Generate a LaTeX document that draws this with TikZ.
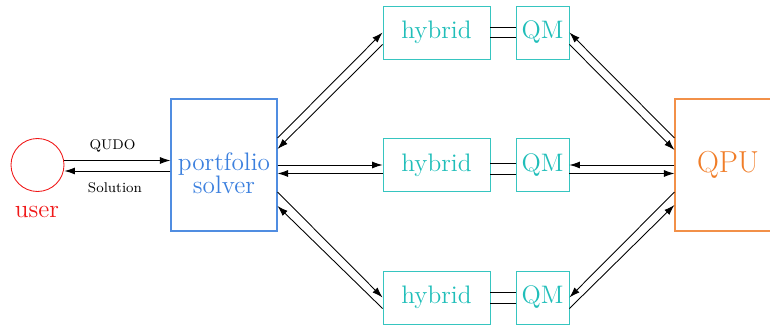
\documentclass[tikz,border=0pt]{standalone}
\usepackage{amsmath}
\usepackage{xcolor}
\usepackage{tikz}
\usetikzlibrary{positioning,calc,arrows.meta}

\definecolor{userred}{RGB}{240,25,25}
\definecolor{solverblue}{RGB}{60,128,222}
\definecolor{hybridteal}{RGB}{32,190,185}
\definecolor{qpuorange}{RGB}{240,125,40}

\begin{document}
\begin{tikzpicture}[
		bigbox/.style={draw, line width=0.6pt, minimum width=2.12cm, minimum height=2.64cm, inner sep=0pt, font=\Large},
		hybbox/.style={draw=hybridteal!90, text=hybridteal, line width=0.5pt, minimum height=1.06cm, inner sep=0pt, font=\Large},
		link/.style={-{Latex[length=0.21cm,width=0.14cm]}, black, line width=0.5pt},
		rail/.style={black, line width=0.5pt},
		tag/.style={font=\footnotesize}
	]
	\useasboundingbox (0,0) rectangle (15.4,-6.56);

	% user and solver
	\node[circle, draw=userred, line width=0.5pt, minimum size=1.06cm, inner sep=0pt] (user) at (0.75,-3.30) {};
	\node[text=userred, font=\Large] (userlabel) at (0.74,-4.24) {user};
	\node[bigbox, draw=solverblue!90] (port) at (4.48,-3.30) {};
	\node[text=solverblue, font=\Large, align=center, inner sep=0pt] (porttext) at (4.48,-3.46) {portfolio\\[-5pt]solver};
	\node[bigbox, draw=qpuorange!85, text=qpuorange, font=\LARGE] (qpu) at (14.56,-3.30) {QPU};

	% the three hybrid/QM pairs
	\node[hybbox, minimum width=2.14cm] (hyb1) at (8.73,-0.65) {hybrid\hspace{0.28cm}};
	\node[hybbox, minimum width=2.14cm] (hyb2) at (8.73,-3.30) {hybrid\hspace{0.28cm}};
	\node[hybbox, minimum width=2.14cm] (hyb3) at (8.73,-5.95) {hybrid\hspace{0.05cm}};
	\node[hybbox, minimum width=1.06cm] (qm1) at (10.85,-0.65) {QM};
	\node[hybbox, minimum width=1.06cm] (qm2) at (10.85,-3.30) {QM};
	\node[hybbox, minimum width=1.06cm] (qm3) at (10.85,-5.95) {QM};

	% user <-> solver
	\draw[link] ([yshift=0.09cm]user.east) -- ([yshift=0.09cm]port.west)
		node[tag, midway, above, xshift=-0.1cm, yshift=1pt] (qudo) {QUDO};
	\draw[link] ([yshift=-0.12cm]port.west) -- ([yshift=-0.12cm]user.east)
		node[tag, midway, below, xshift=-0.05cm, yshift=-3pt] (sol) {Solution};

	% solver <-> hybrid
	\draw[link] ([yshift=0.54cm]port.east) -- (hyb1.west);
	\draw[link] ([yshift=-0.24cm]hyb1.west) -- ([yshift=0.32cm]port.east);
	\draw[link] (port.east) -- (hyb2.west);
	\draw[link] ([yshift=-0.17cm]hyb2.west) -- ([yshift=-0.17cm]port.east);
	\draw[link] ([yshift=-0.54cm]port.east) -- (hyb3.west);
	\draw[link] ([yshift=-0.22cm]hyb3.west) -- ([yshift=-0.82cm]port.east);

	% hybrid = QM
	\draw[rail] ([yshift=0.1cm]hyb1.east) -- ([yshift=0.1cm]qm1.west);
	\draw[rail] ([yshift=-0.1cm]hyb1.east) -- ([yshift=-0.1cm]qm1.west);
	\draw[rail] ([yshift=0.04cm]hyb2.east) -- ([yshift=0.04cm]qm2.west);
	\draw[rail] ([yshift=-0.18cm]hyb2.east) -- ([yshift=-0.18cm]qm2.west);
	\draw[rail] ([yshift=0.1cm]hyb3.east) -- ([yshift=0.1cm]qm3.west);
	\draw[rail] ([yshift=-0.11cm]hyb3.east) -- ([yshift=-0.11cm]qm3.west);

	% QM <-> QPU
	\draw[link] ([yshift=0.54cm]qpu.west) -- (qm1.east);
	\draw[link] ([yshift=-0.24cm]qm1.east) -- ([yshift=0.30cm]qpu.west);
	\draw[link] (qpu.west) -- (qm2.east);
	\draw[link] ([yshift=-0.17cm]qm2.east) -- ([yshift=-0.17cm]qpu.west);
	\draw[link] ([yshift=-0.54cm]qpu.west) -- (qm3.east);
	\draw[link] ([yshift=-0.22cm]qm3.east) -- ([yshift=-0.80cm]qpu.west);
\end{tikzpicture}
\end{document}
